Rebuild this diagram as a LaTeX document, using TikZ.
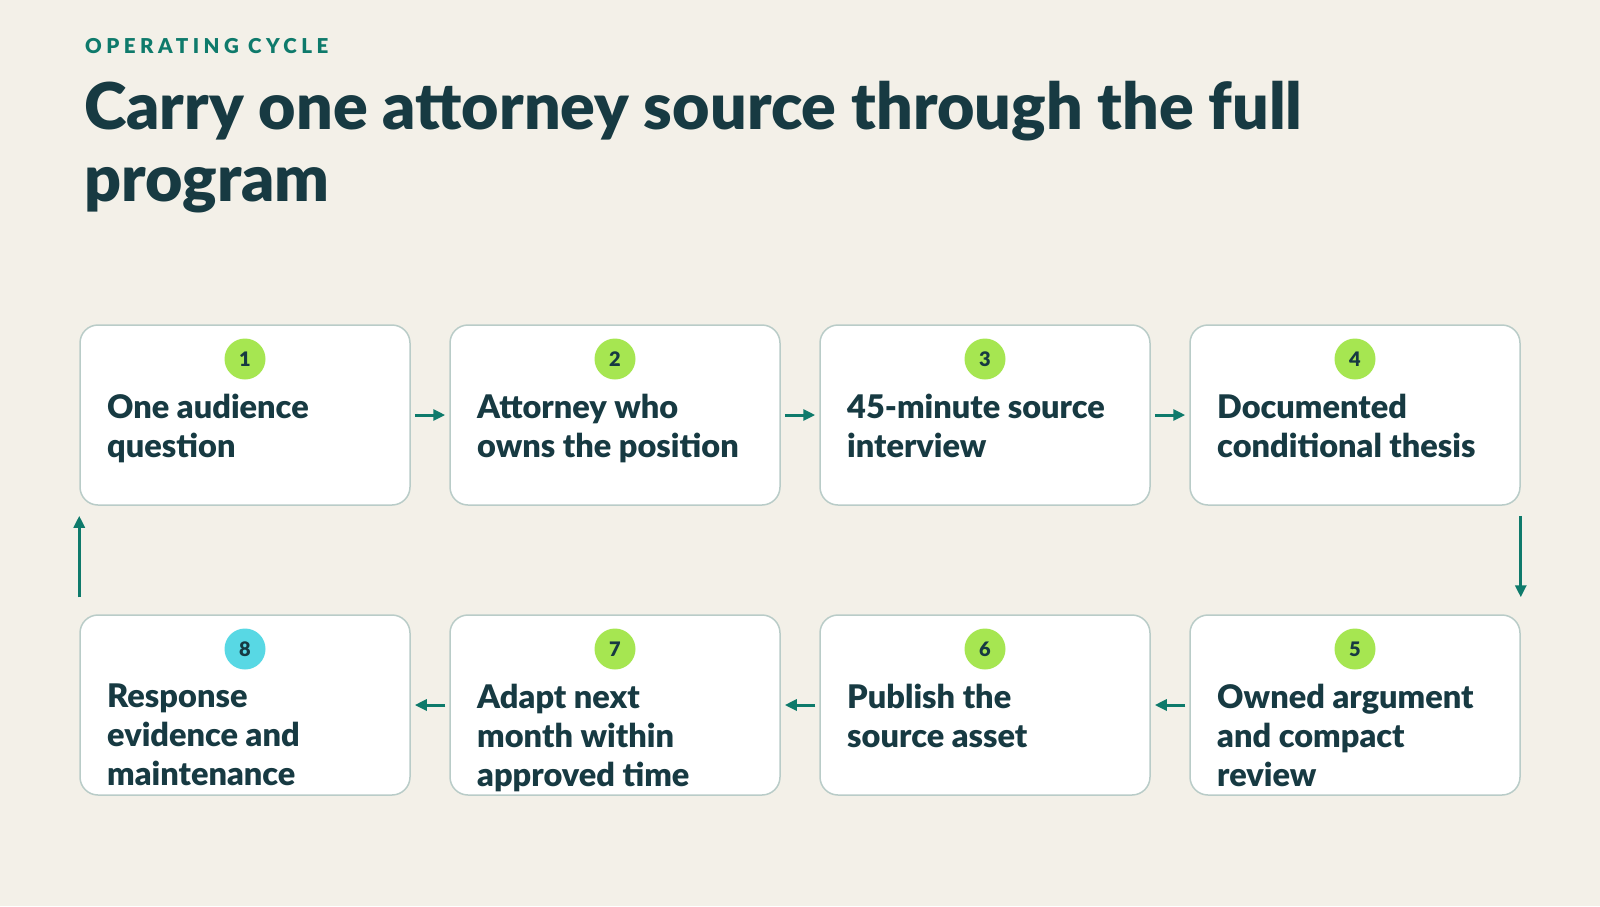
\documentclass[tikz,border=0pt]{standalone}
\usepackage{fontspec}
\setmainfont{Lato}
\usetikzlibrary{arrows.meta}
\definecolor{bg}{HTML}{F3F0E8}
\definecolor{bord}{HTML}{B9CCC8}
\definecolor{ink}{HTML}{173A42}
\definecolor{teal}{HTML}{0E7A6B}
\definecolor{lime}{HTML}{A6E651}
\definecolor{cyan}{HTML}{58D8E4}
\newfontfamily\heavy{Lato Black}
\begin{document}
\begin{tikzpicture}[x=1pt,y=-1pt,
  box/.style={draw=bord,line width=1.5pt,fill=white,rounded corners=18pt,minimum width=330pt,minimum height=180pt,inner sep=0pt},
  badge/.style={circle,fill=lime,minimum size=41pt,inner sep=0pt,font=\heavy\fontsize{20}{20}\selectfont,text=ink},
  lab/.style={anchor=north west,align=left,font=\heavy\fontsize{32.5}{39}\selectfont,text=ink,inner sep=0pt},
  arr/.style={draw=teal,line width=3pt,-{Triangle[length=12pt,width=11pt]}}]
\fill[bg] (0,0) rectangle (1600,906);
\useasboundingbox (0,0) rectangle (1600,906);
\node[anchor=base west,inner sep=0pt,text=teal,font=\heavy\fontsize{20.5}{20}\selectfont] (kick) at (85,53) {\addfontfeature{LetterSpace=22}OPERATING CYCLE};
\node[anchor=north west,inner sep=0pt,text=ink,align=left,font=\heavy\fontsize{64.5}{72}\selectfont] (title) at (84,81) {Carry one attorney source through the full\\program};
\foreach \i/\x/\y/\t/\c in {1/245/415/{One audience\\question}/lime,2/615/415/{Attorney who\\owns the position}/lime,3/985/415/{45-minute source\\interview}/lime,4/1355/415/{Documented\\conditional thesis}/lime,5/1355/705/{Owned argument\\and compact\\review}/lime,6/985/705/{Publish the\\source asset}/lime,7/615/705/{Adapt next\\month within\\approved time}/lime,8/245/705/{Response\\evidence and\\maintenance}/cyan}{
  \node[box] (b\i) at (\x,\y) {};
  \node[badge,fill=\c] (n\i) at (\x,\y-56) {\i};
  \node[lab] (t\i) at (\x-138,\y-21) {\t};
}
\foreach \a/\b in {1/2,2/3,3/4}{\draw[arr] ([xshift=4pt]b\a.east) -- ([xshift=-4pt]b\b.west);}
\foreach \a/\b in {5/6,6/7,7/8}{\draw[arr] ([xshift=-4pt]b\a.west) -- ([xshift=4pt]b\b.east);}
\draw[arr] ([yshift=-10pt]b4.south east) -- ([yshift=17pt]b5.north east);
\draw[arr] ([yshift=17pt]b8.north west) -- ([yshift=-10pt]b1.south west);
\end{tikzpicture}
\end{document}
